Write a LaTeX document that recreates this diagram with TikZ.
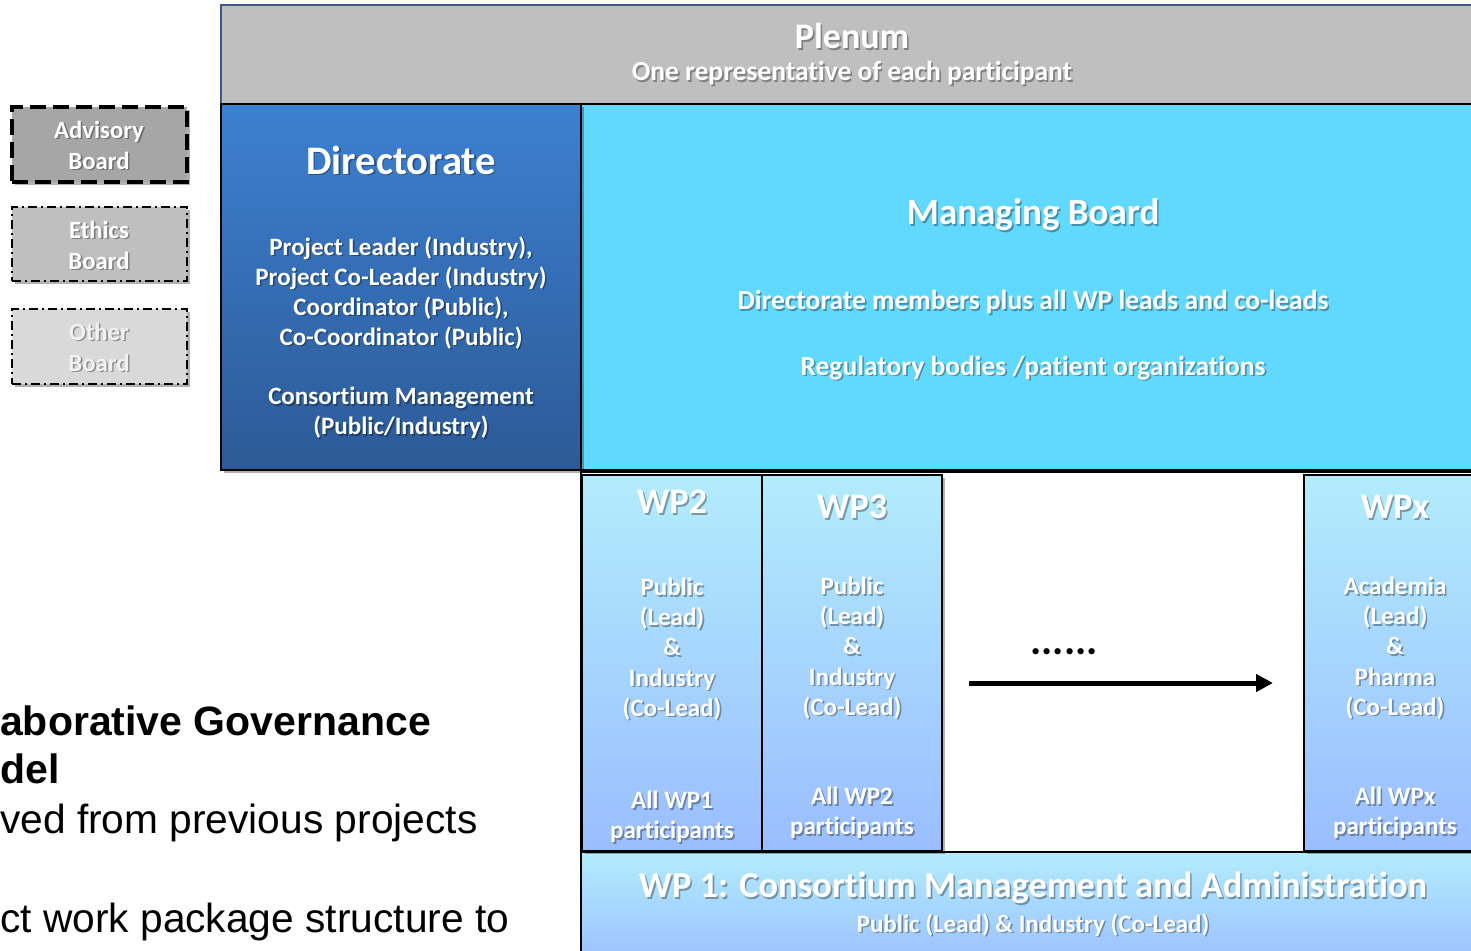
\documentclass[tikz,border=0pt]{standalone}
\usepackage{fontspec}
\setmainfont{Carlito}[Ligatures={NoCommon}]
\newfontfamily\arialf{Liberation Sans}
\usetikzlibrary{shadows,arrows.meta}
\definecolor{plenumgray}{HTML}{BFBFBF}
\definecolor{plenumline}{HTML}{3A5A8A}
\definecolor{dirtop}{HTML}{3D80D1}
\definecolor{dirbot}{HTML}{2C5A96}
\definecolor{mbcyan}{HTML}{61D9FF}
\definecolor{wptop}{HTML}{B2ECFC}
\definecolor{wpbot}{HTML}{9ABDFF}
\definecolor{advgray}{HTML}{A6A6A6}
\definecolor{ethgray}{HTML}{BFBFBF}
\definecolor{othgray}{HTML}{D9D9D9}
\newcommand\shtxt[4][]{%
  \node[txt,#1,text=black,opacity=0.33] at ([xshift=1.6pt,yshift=-1.6pt]#3) {#4};
  \node[txt,#1] (#2) at (#3) {#4};}
\begin{document}
\begin{tikzpicture}[x=1pt,y=-1pt,
  box/.style={anchor=north west,inner sep=0pt,outer sep=0pt,draw=black,line width=1.5pt},
  shad/.style={drop shadow={shadow xshift=3pt,shadow yshift=-3pt,opacity=0.3,fill=black}},
  wpgrad/.style={top color=wptop,bottom color=wpbot},
  txt/.style={text=white,font=\bfseries\fontsize{25}{30}\selectfont,align=center,inner sep=0pt,anchor=center},
  sub/.style={font=\bfseries\fontsize{27.5}{30}\selectfont},
  big/.style={font=\bfseries\fontsize{37}{42}\selectfont},
  title/.style={font=\bfseries\fontsize{36}{40}\selectfont},
  wpbody/.style={font=\bfseries\fontsize{25}{30.2}\selectfont},
  board/.style={font=\bfseries\fontsize{24.7}{31}\selectfont},
  leftbold/.style={anchor=base west,inner sep=0pt,font=\arialf\bfseries\fontsize{41}{46}\selectfont},
  leftreg/.style={anchor=base west,inner sep=0pt,font=\arialf\fontsize{40.7}{46}\selectfont}
]
\useasboundingbox (0,0) rectangle (1471,950);

% left boards
\node[box,shad,fill=advgray,line width=4pt,dash pattern=on 16pt off 7pt,minimum width=175pt,minimum height=75pt] (adv) at (12,107) {};
\node[box,shad,fill=ethgray,line width=1.8pt,dash pattern=on 9pt off 4pt on 2pt off 4pt,minimum width=175pt,minimum height=74pt] (eth) at (12,207) {};
\node[box,shad,fill=othgray,line width=1.8pt,dash pattern=on 9pt off 4pt on 2pt off 4pt,minimum width=175pt,minimum height=75pt] (oth) at (12,309) {};
\shtxt[board]{advt}{99,145}{Advisory\\Board}
\shtxt[board]{etht}{99,245}{Ethics\\Board}
\shtxt[board,text=white!95!black]{otht}{99,347}{Other\\Board}

% main structure
\node[box,fill=plenumgray,draw=plenumline,minimum width=1270pt,minimum height=99pt] (plenum) at (221,5) {};
\node[box,fill=mbcyan,minimum width=910pt,minimum height=366pt] (mb) at (581,104) {};
\node[box,shad,top color=dirtop,bottom color=dirbot,minimum width=360pt,minimum height=366pt] (dir) at (221,104) {};
\node[box,fill=white,minimum width=910pt,minimum height=380pt] (wprow) at (581,472) {};
\node[box,wpgrad,minimum width=910pt,minimum height=120pt] (wp1) at (581,852) {};
\node[box,shad,wpgrad,minimum width=180pt,minimum height=376pt] (wp2) at (582,475) {};
\node[box,shad,wpgrad,minimum width=180pt,minimum height=376pt] (wp3) at (762,475) {};
\node[box,shad,wpgrad,minimum width=190pt,minimum height=376pt] (wpx) at (1304,475) {};

% texts
\shtxt[title]{plt}{852,36}{Plenum}
\shtxt[sub]{pls}{852,73}{One representative of each participant}
\shtxt[font=\bfseries\fontsize{40.5}{44}\selectfont]{dirt}{401,160}{Directorate}
\shtxt{dirb}{401,293}{Project Leader (Industry),\\Project Co-Leader (Industry)\\Coordinator (Public),\\Co-Coordinator (Public)}
\shtxt{dirc}{401,413}{Consortium Management\\(Public/Industry)}
\shtxt[big]{mbt}{1033,215}{Managing Board}
\shtxt[sub]{mb1}{1033,302}{Directorate members plus all WP leads and co-leads}
\shtxt[sub]{mb2}{1033,368}{Regulatory bodies /patient organizations}

\shtxt[title]{wp2t}{672,502}{WP2}
\shtxt[wpbody]{wp2b}{672,649}{Public\\(Lead)\\\&\\Industry\\(Co-Lead)}
\shtxt[wpbody]{wp2p}{672,817}{All WP1\\participants}
\shtxt[title]{wp3t}{852,507}{WP3}
\shtxt[wpbody]{wp3b}{852,648}{Public\\(Lead)\\\&\\Industry\\(Co-Lead)}
\shtxt[wpbody]{wp3p}{852,813}{All WP2\\participants}
\shtxt[title]{wpxt}{1395,507}{WPx}
\shtxt[wpbody]{wpxb}{1395,648}{Academia\\(Lead)\\\&\\Pharma\\(Co-Lead)}
\shtxt[wpbody]{wpxp}{1395,813}{All WPx\\participants}

\shtxt[font=\bfseries\fontsize{36.5}{40}\selectfont]{wp1t}{1033,888}{WP 1: Consortium Management and Administration}
\shtxt[wpbody]{wp1s}{1033,925}{Public (Lead) \& Industry (Co-Lead)}

% arrow and dots
\coordinate (arrs) at (969,683);
\coordinate (arre) at (1273,683);
\draw[line width=5pt,-{Triangle[length=17pt,width=17pt]}] (arrs) -- (arre);
\node[txt,text=black,font=\bfseries\fontsize{42}{42}\selectfont] (dots) at (1064,652) {......};

% left text
\node[leftbold] (l1) at (0,735) {aborative Governance};
\node[leftbold] (l2) at (0,783) {del};
\node[leftreg] (l3) at (0,833) {ved from previous projects};
\node[leftreg] (l4) at (0,932) {ct work package structure to};
\end{tikzpicture}
\end{document}
